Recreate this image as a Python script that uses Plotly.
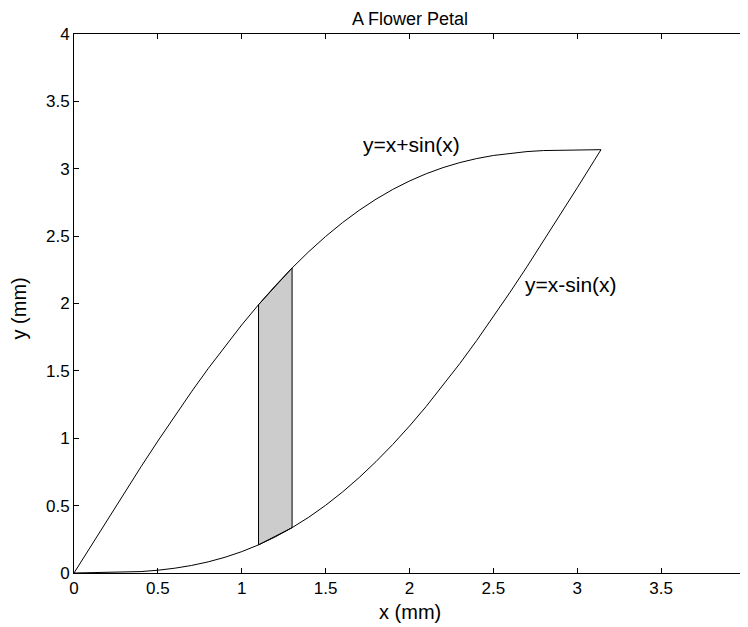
import plotly.graph_objects as go

# Upper curve y = x + sin(x)
upper_x = [0, 0.1, 0.2, 0.3, 0.4, 0.5, 0.6, 0.7, 0.8, 0.9, 1.0, 1.1, 1.2, 1.3, 1.4,
           1.5, 1.6, 1.7, 1.8, 1.9, 2.0, 2.1, 2.2, 2.3, 2.4, 2.5, 2.6, 2.7, 2.8, 3.1416]
upper_y = [0, 0.1998, 0.3987, 0.5955, 0.7894, 0.9794, 1.1646, 1.3442, 1.5174, 1.6833,
           1.8415, 1.9912, 2.1320, 2.2636, 2.3855, 2.4975, 2.5996, 2.6917, 2.7738,
           2.8463, 2.9093, 2.9632, 3.0085, 3.0457, 3.0755, 3.0985, 3.1155, 3.1274,
           3.1350, 3.1416]

# Lower curve y = x - sin(x)
lower_x = [0, 0.4, 0.5, 0.6, 0.7, 0.8, 0.9, 1.0, 1.1, 1.2, 1.3, 1.4, 1.5, 1.6, 1.7,
           1.8, 1.9, 2.0, 2.1, 2.2, 2.3, 2.4, 2.5, 2.6, 2.7, 2.8, 2.9, 3.0, 3.1, 3.1416]
lower_y = [0, 0.0106, 0.0206, 0.0354, 0.0558, 0.0826, 0.1167, 0.1585, 0.2088, 0.2680,
           0.3364, 0.4145, 0.5025, 0.6004, 0.7083, 0.8262, 0.9537, 1.0907, 1.2368,
           1.3915, 1.5543, 1.7245, 1.9015, 2.0845, 2.2726, 2.4650, 2.6608, 2.8589,
           3.0584, 3.1416]

# Shaded strip
strip_x = [1.1, 1.1, 1.3, 1.3, 1.1]
strip_y = [0.2088, 1.9912, 2.2636, 0.3364, 0.2088]

ticks = [0, 0.5, 1, 1.5, 2, 2.5, 3, 3.5, 4]
tick_text = ["0", "0.5", "1", "1.5", "2", "2.5", "3", "3.5", "4"]

title_text = "A Flower Petal"
x_title = "x (mm)"
y_title = "y (mm)"
label_upper = "y=x+sin(x)"
label_lower = "y=x-sin(x)"

FONT = "Liberation Sans, Arial, sans-serif"

fig = go.Figure()
fig.add_trace(go.Scatter(x=strip_x, y=strip_y, mode="lines", fill="toself",
                         fillcolor="#cccccc", line=dict(color="black", width=1),
                         showlegend=False, hoverinfo="skip"))
fig.add_trace(go.Scatter(x=upper_x, y=upper_y, mode="lines",
                         line=dict(color="black", width=1), showlegend=False))
fig.add_trace(go.Scatter(x=lower_x, y=lower_y, mode="lines",
                         line=dict(color="black", width=1), showlegend=False))

fig.add_annotation(x=2.01, y=3.18, text=label_upper, showarrow=False,
                   font=dict(size=21, color="black", family=FONT))
fig.add_annotation(x=2.96, y=2.14, text=label_lower, showarrow=False,
                   font=dict(size=21, color="black", family=FONT))

# Title and axis titles placed relative to the plot area
fig.add_annotation(xref="paper", yref="paper", x=0.5, y=1, yshift=15,
                   xanchor="center", yanchor="middle", text=title_text, showarrow=False,
                   font=dict(size=18, color="black", family=FONT))
fig.add_annotation(xref="paper", yref="paper", x=0.5, y=0, yshift=-39,
                   xanchor="center", yanchor="middle", text=x_title, showarrow=False,
                   font=dict(size=20, color="black", family=FONT))
fig.add_annotation(xref="paper", yref="paper", x=0, y=0.5, xshift=-56, yshift=-5,
                   xanchor="center", yanchor="middle", text=y_title, showarrow=False,
                   textangle=-90, font=dict(size=20, color="black", family=FONT))

axis_common = dict(range=[0, 4], tickvals=ticks, ticktext=tick_text,
                   showgrid=False, zeroline=False, showline=True, linecolor="black",
                   linewidth=1, mirror="allticks", ticks="inside", ticklen=5,
                   tickcolor="black", automargin=False, ticklabeloverflow="allow",
                   tickfont=dict(size=17, color="black", family=FONT))

# The page body adds an 8 px offset, so the figure is 8 px smaller and shifted
fig.update_layout(
    width=740, height=619,
    margin=dict(l=66, r=3, t=26, b=54, autoexpand=False),
    paper_bgcolor="white", plot_bgcolor="white",
    xaxis=dict(**axis_common),
    yaxis=dict(**axis_common),
)

fig.write_html("out.html")
